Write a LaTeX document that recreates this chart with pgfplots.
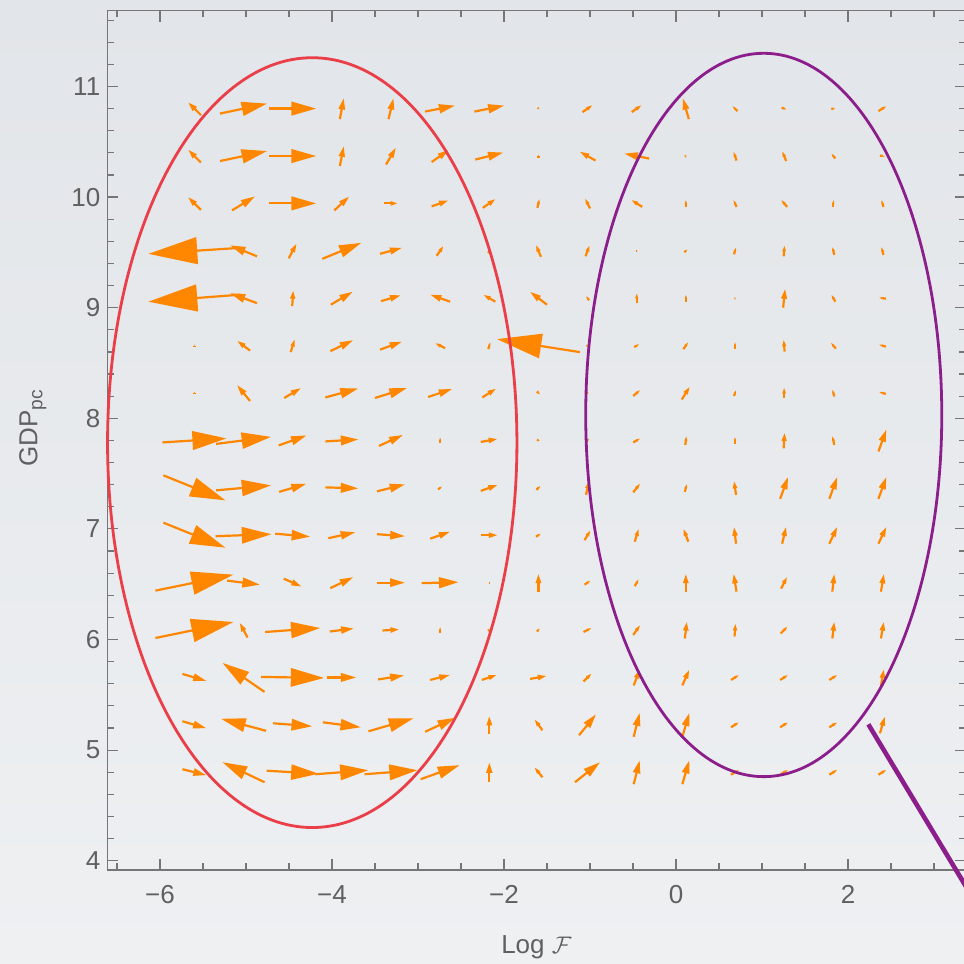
\documentclass[border=0pt]{standalone}
\usepackage{fontspec}
\setmainfont{Liberation Sans}
\usepackage{pgfplots}
\pgfplotsset{compat=1.18}
\usepackage{pgfplotstable}
\usetikzlibrary{arrows.meta}

\definecolor{vfOrange}{RGB}{255,135,0}
\definecolor{elRed}{RGB}{234,62,72}
\definecolor{elPurple}{RGB}{140,30,140}
\definecolor{frameGray}{RGB}{118,118,118}
\definecolor{labelGray}{RGB}{96,96,96}
\definecolor{bgTop}{RGB}{226,229,233}
\definecolor{bgBot}{RGB}{238,240,242}

% grid centres; dx, dy = arrow vector in pixels of the reference (dy up)
\pgfplotstableread{
x y dx dy
-5.6 10.8 -13 13
-5.029 10.8 47 10
-4.457 10.8 47 0
-3.886 10.8 4 21
-3.314 10.8 5 21
-2.743 10.8 30 6
-2.171 10.8 30 6
-1.6 10.8 1 -2
-1.029 10.8 10 7
-0.457 10.8 10 7
0.114 10.8 -6 21
0.686 10.8 -5 5
1.257 10.8 5 -2
1.829 10.8 4 1
2.4 10.8 8 5
-5.6 10.371 -13 13
-5.029 10.371 47 10
-4.457 10.371 47 0
-3.886 10.371 4 20
-3.314 10.371 10 17
-2.743 10.371 17 12
-2.171 10.371 28 7
-1.6 10.371 0 3
-1.029 10.371 -16 9
-0.457 10.371 -25 5
0.114 10.371 2 1
0.686 10.371 -3 9
1.257 10.371 -4 10
1.829 10.371 -4 5
2.4 10.371 5 -1
-5.6 9.943 -13 13
-5.029 9.943 23 14
-4.457 9.943 47 0
-3.886 9.943 15 14
-3.314 9.943 14 0
-2.743 9.943 17 6
-2.171 9.943 13 9
-1.6 9.943 2 9
-1.029 9.943 -5 10
-0.457 9.943 -11 7
0.114 9.943 0 7
0.686 9.943 -3 7
1.257 9.943 -6 7
1.829 9.943 0 7
2.4 9.943 -2 7
-5.6 9.514 -92 -6
-5.029 9.514 -27 11
-4.457 9.514 8 15
-3.886 9.514 39 16
-3.314 9.514 22 6
-2.743 9.514 7 10
-2.171 9.514 2 5
-1.6 9.514 -5 12
-1.029 9.514 4 11
-0.457 9.514 2 0
0.114 9.514 3 3
0.686 9.514 2 7
1.257 9.514 1 11
1.829 9.514 -2 8
2.4 9.514 -2 8
-5.6 9.086 -92 -7
-5.029 9.086 -27 10
-4.457 9.086 1 16
-3.886 9.086 22 13
-3.314 9.086 20 6
-2.743 9.086 -20 7
-2.171 9.086 -12 7
-1.6 9.086 -17 13
-1.029 9.086 -3 4
-0.457 9.086 0 10
0.114 9.086 0 7
0.686 9.086 1 1
1.257 9.086 2 19
1.829 9.086 -4 7
2.4 9.086 -7 1
-5.6 8.657 0 3
-5.029 8.657 -13 10
-4.457 8.657 4 13
-3.886 8.657 23 11
-3.314 8.657 22 8
-2.743 8.657 -10 5
-2.171 8.657 2 7
-1.6 8.657 -83 13
-1.029 8.657 2 1
-0.457 8.657 5 3
0.114 8.657 5 7
0.686 8.657 0 7
1.257 8.657 -1 12
1.829 8.657 -5 6
2.4 8.657 -7 2
-5.6 8.229 0 3
-5.029 8.229 -13 16
-4.457 8.229 17 10
-3.886 8.229 33 9
-3.314 8.229 32 10
-2.743 8.229 24 8
-2.171 8.229 14 9
-1.6 8.229 3 -3
-1.029 8.229 3 0
-0.457 8.229 7 6
0.114 8.229 8 13
0.686 8.229 2 6
1.257 8.229 0 11
1.829 8.229 -2 7
2.4 8.229 -7 2
-5.6 7.8 64 4
-5.029 7.8 55 7
-4.457 7.8 28 10
-3.886 7.8 33 2
-3.314 7.8 24 11
-2.743 7.8 0 6
-2.171 7.8 17 3
-1.6 7.8 3 -1
-1.029 7.8 4 3
-0.457 7.8 7 4
0.114 7.8 1 9
0.686 7.8 0 7
1.257 7.8 1 16
1.829 7.8 -2 9
2.4 7.8 8 22
-5.6 7.371 62 -25
-5.029 7.371 55 5
-4.457 7.371 27 8
-3.886 7.371 33 -1
-3.314 7.371 28 7
-2.743 7.371 4 3
-2.171 7.371 17 6
-1.6 7.371 4 4
-1.029 7.371 3 14
-0.457 7.371 7 9
0.114 7.371 2 8
0.686 7.371 -2 14
1.257 7.371 8 22
1.829 7.371 8 22
2.4 7.371 8 22
-5.6 6.943 62 -25
-5.029 6.943 56 2
-4.457 6.943 35 -3
-3.886 6.943 27 6
-3.314 6.943 28 -2
-2.743 6.943 20 7
-2.171 6.943 17 0
-1.6 6.943 5 3
-1.029 6.943 6 10
-0.457 6.943 4 13
0.114 6.943 -5 13
0.686 6.943 -2 17
1.257 6.943 4 17
1.829 6.943 8 17
2.4 6.943 8 17
-5.6 6.514 78 16
-5.029 6.514 33 -4
-4.457 6.514 18 -8
-3.886 6.514 23 11
-3.314 6.514 28 0
-2.743 6.514 37 1
-2.171 6.514 1 0
-1.6 6.514 0 18
-1.029 6.514 6 4
-0.457 6.514 4 7
0.114 6.514 0 18
0.686 6.514 -3 18
1.257 6.514 6 12
1.829 6.514 2 18
2.4 6.514 3 18
-5.6 6.086 78 16
-5.029 6.086 -8 15
-4.457 6.086 55 4
-3.886 6.086 24 3
-3.314 6.086 17 1
-2.743 6.086 0 6
-2.171 6.086 3 1
-1.6 6.086 3 3
-1.029 6.086 8 4
-0.457 6.086 7 10
0.114 6.086 2 17
0.686 6.086 1 13
1.257 6.086 7 7
1.829 6.086 2 17
2.4 6.086 3 17
-5.6 5.657 24 -7
-5.029 5.657 -42 29
-4.457 5.657 63 -1
-3.886 5.657 29 0
-3.314 5.657 26 4
-2.743 5.657 20 5
-2.171 5.657 15 5
-1.6 5.657 17 3
-1.029 5.657 8 8
-0.457 5.657 6 16
0.114 5.657 7 16
0.686 5.657 8 5
1.257 5.657 8 5
1.829 5.657 8 5
2.4 5.657 3 17
-5.6 5.229 24 -7
-5.029 5.229 -45 12
-4.457 5.229 39 -3
-3.886 5.229 38 -5
-3.314 5.229 45 13
-2.743 5.229 30 14
-2.171 5.229 0 18
-1.6 5.229 -8 11
-1.029 5.229 17 21
-0.457 5.229 6 24
0.114 5.229 7 24
0.686 5.229 8 5
1.257 5.229 8 5
1.829 5.229 8 5
2.4 5.229 5 17
-5.6 4.8 24 -6
-5.029 4.8 -42 20
-4.457 4.8 52 -3
-3.886 4.8 53 4
-3.314 4.8 53 4
-2.743 4.8 39 14
-2.171 4.8 0 20
-1.6 4.8 -8 10
-1.029 4.8 25 20
-0.457 4.8 6 24
0.114 4.8 7 24
0.686 4.8 8 5
1.257 4.8 8 5
1.829 4.8 8 5
2.4 4.8 8 5
}\field

\begin{document}
\begin{tikzpicture}
\shade[top color=bgTop, bottom color=bgBot] (-53.65pt,-47pt) rectangle (428.35pt,435pt);
\begin{axis}[
  scale only axis, width=429.1pt, height=429.65pt,
  xmin=-6.613, xmax=3.366, ymin=3.916, ymax=11.685,
  clip=false,
  axis line style={frameGray, line width=0.7pt},
  tick style={frameGray, line width=0.6pt},
  major tick length=5.5pt, minor tick length=3.3pt,
  xtick={-6,-4,-2,0,2}, xticklabels={−6,−4,−2,0,2},
  minor xtick={-6.5,-5.5,-5,-4.5,-3.5,-3,-2.5,-1.5,-1,-0.5,0.5,1,1.5,2.5,3},
  ytick={4,5,...,11},
  minor ytick={4.2,4.4,...,11.6},
  tick label style={font=\fontsize{13}{15}\selectfont, text=labelGray},
  /pgf/number format/assume math mode=true,
  xticklabel style={anchor=base, yshift=-16.7pt},
  xlabel={Log $\mathcal{F}$},
  ylabel={GDP\raisebox{-2.5pt}{\fontsize{9.6}{11}\selectfont pc}},
  label style={font=\fontsize{13}{15}\selectfont, text=labelGray},
  xlabel style={at={(axis description cs:0.5,-0.0966)}, anchor=base},
  ylabel style={at={(axis description cs:-0.0816,0.514)}, anchor=base},
  point meta min=0, point meta max=100,
]
\addplot[vfOrange, line width=1.1pt,
  point meta={sqrt((\thisrow{dx})^2+(\thisrow{dy})^2)},
  quiver={u={\thisrow{dx}/86}, v={\thisrow{dy}/110.6},
    every arrow/.append style={-{Triangle[length=26.5pt,width=14.5pt,
      scale length={max(0.01,\pgfplotspointmetatransformed/1000)},
      scale width={max(0.01,\pgfplotspointmetatransformed/1000)}]}}}]
  table[x expr={\thisrow{x}-\thisrow{dx}/172}, y expr={\thisrow{y}-\thisrow{dy}/221.2}] {\field};
\draw[elRed, line width=1.4pt] (axis cs:-4.23,7.78) ellipse [x radius=2.38, y radius=3.48];
\draw[elPurple, line width=1.4pt] (axis cs:1.02,8.03) ellipse [x radius=2.07, y radius=3.27];
\draw[elPurple, line width=2.3pt] (axis cs:2.236,5.233) -- (axis cs:4.46,2.36);
\end{axis}
\pgfresetboundingbox
\useasboundingbox (-53.65pt,-47pt) rectangle (428.35pt,435pt);
\end{tikzpicture}
\end{document}
